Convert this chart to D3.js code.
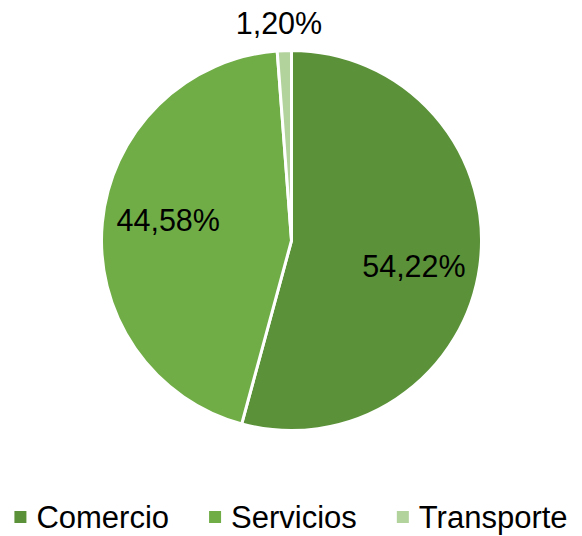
<!DOCTYPE html>
<html>
<head>
<meta charset="utf-8">
<script src="https://cdn.jsdelivr.net/npm/d3@7"></script>
<style>
  html, body { margin: 0; padding: 0; background: #fff; }
  svg { display: block; font-family: "Liberation Sans", Arial, sans-serif; }
</style>
</head>
<body>
<svg id="chart" width="582" height="536"></svg>
<script>
const categories = ["Comercio", "Servicios", "Transporte"];
const values = [54.22, 44.58, 1.20];
const labels = ["54,22%", "44,58%", "1,20%"];
const colors = ["#5B9239", "#70AD47", "#B2D39C"];

const svg = d3.select("#chart");
const W = 582, H = 536;
const cx = 291.5, cy = 240.5, R = 190;

const data = categories.map((c, i) => ({ cat: c, value: values[i], label: labels[i], color: colors[i] }));

const pie = d3.pie().value(d => d.value).sort(null);
const arcs = pie(data);
const arc = d3.arc().innerRadius(0).outerRadius(R);

const g = svg.append("g").attr("transform", `translate(${cx},${cy})`);

g.selectAll("path.slice")
  .data(arcs)
  .join("path")
  .attr("class", "slice")
  .attr("d", arc)
  .attr("fill", d => d.data.color)
  .attr("stroke", "#fff")
  .attr("stroke-width", 3)
  .attr("stroke-linejoin", "round");

function labelPos(d) {
  const small = (d.endAngle - d.startAngle) < 0.2;
  const a = (d.startAngle + d.endAngle) / 2 + (small ? -0.02 : 0.07);
  const r = small ? 218 : 125;
  return [r * Math.sin(a), -r * Math.cos(a)];
}

g.selectAll("text.lbl")
  .data(arcs)
  .join("text")
  .attr("class", "lbl")
  .attr("transform", d => { const p = labelPos(d); return `translate(${p[0]},${p[1]})`; })
  .attr("text-anchor", "middle")
  .attr("dy", "0.36em")
  .attr("font-size", 30.5)
  .attr("fill", "#000")
  .text(d => d.data.label);

// Legend
const legend = svg.append("g");
const items = legend.selectAll("g.item")
  .data(data)
  .join("g")
  .attr("class", "item");

items.append("rect")
  .attr("width", 12)
  .attr("height", 12)
  .attr("y", 511)
  .attr("fill", d => d.color);

items.append("text")
  .attr("x", 22)
  .attr("y", 528)
  .attr("font-size", 31)
  .attr("fill", "#000")
  .text(d => d.cat);

const gap = 40;
const widths = [];
items.each(function () {
  const t = d3.select(this).select("text").node().getComputedTextLength();
  widths.push(22 + t);
});
const total = widths.reduce((a, b) => a + b, 0) + gap * (widths.length - 1);
let start = (W - total) / 2;
items.attr("transform", (d, i) => {
  const tx = start;
  start += widths[i] + gap;
  return `translate(${tx},0)`;
});
</script>
</body>
</html>
